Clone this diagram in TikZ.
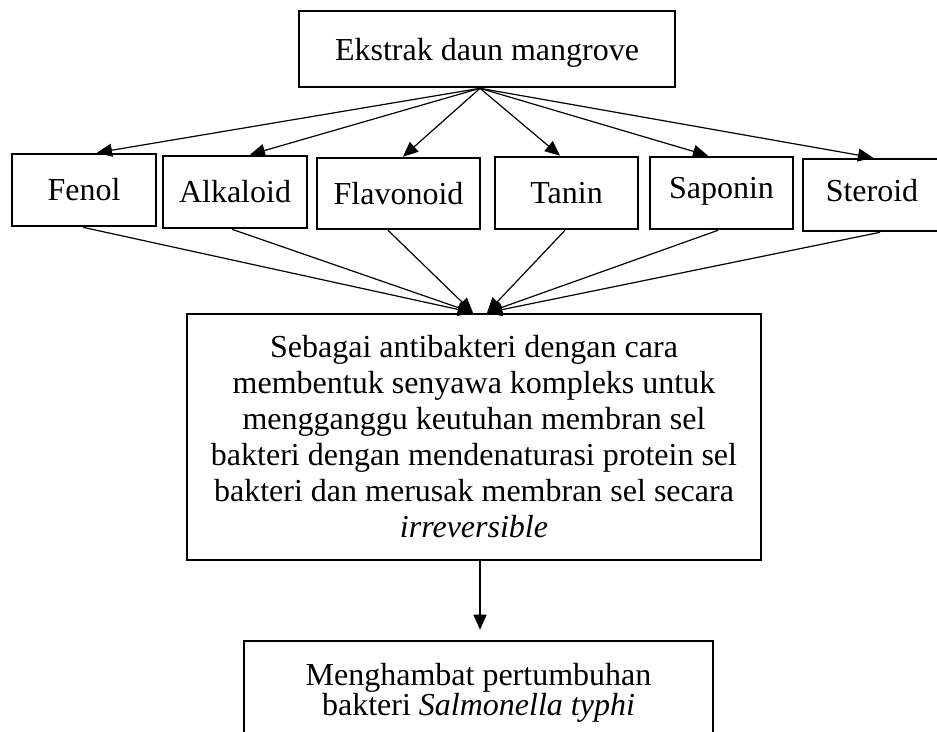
\documentclass[tikz,border=0pt]{standalone}
\usepackage{fontspec}
\setmainfont{Liberation Serif}
\usetikzlibrary{arrows.meta}

\begin{document}
\begin{tikzpicture}[x=1pt, y=-1pt,
  box/.style={draw, line width=2.6pt, inner sep=0pt, minimum height=72pt, font=\fontsize{32}{36}\selectfont},
  link/.style={line width=1.2pt, -{Triangle[length=15pt,width=13pt]}}]
 \useasboundingbox (0,0) rectangle (937,731);
 \clip (0,0) rectangle (937,731);
 \node[box, minimum width=376pt, minimum height=76pt, text height=30pt] (ekstrak) at (487,49) {Ekstrak daun mangrove};
 \node[box, minimum width=144pt] (fenol) at (84,190) {Fenol};
 \node[box, minimum width=144pt] (alkaloid) at (235,192) {Alkaloid};
 \node[box, minimum width=163pt, minimum height=71pt] (flavonoid) at (398.5,193.5) {Flavonoid};
 \node[box, minimum width=143pt] (tanin) at (566.5,193) {Tanin};
 \node[box, minimum width=143pt, text height=22pt, text depth=12pt] (saponin) at (721.5,193) {Saponin};
 \node[box, minimum width=138pt, text height=22pt, text depth=10pt] (steroid) at (872,195) {Steroid};
 \node[box, minimum width=574pt, minimum height=246pt, align=center] (anti) at (474,437)
  {Sebagai antibakteri dengan cara\\ membentuk senyawa kompleks untuk\\ mengganggu keutuhan membran sel\\
   bakteri dengan mendenaturasi protein sel\\ bakteri dan merusak membran sel secara\\ \textit{irreversible}};
 \node[box, minimum width=469pt, minimum height=103pt, align=center, font=\fontsize{32}{28}\selectfont] (hambat) at (478.5,692.5)
  {Menghambat pertumbuhan\\ bakteri \textit{Salmonella typhi}};
 \coordinate (pusat) at ([xshift=-7pt]ekstrak.south);
 \path[link]
  (pusat) edge ([xshift=13pt]fenol.north)
  (pusat) edge ([xshift=15pt]alkaloid.north)
  (pusat) edge ([xshift=4.5pt]flavonoid.north)
  (pusat) edge ([xshift=-6.5pt]tanin.north)
  (pusat) edge ([xshift=-13.5pt]saponin.north)
  (pusat) edge ([xshift=1pt]steroid.north)
  ([xshift=-1pt]fenol.south) edge ([xshift=-1pt]anti.north)
  ([xshift=-3pt]alkaloid.south) edge ([xshift=-1pt]anti.north)
  ([xshift=-10.5pt]flavonoid.south) edge ([xshift=-1pt]anti.north)
  ([xshift=-1.5pt]tanin.south) edge ([xshift=13pt]anti.north)
  ([xshift=-3.5pt]saponin.south) edge ([xshift=13pt]anti.north)
  ([xshift=8pt]steroid.south) edge ([xshift=13pt]anti.north)
  ([xshift=6pt]anti.south) edge ([xshift=1.5pt,yshift=10pt]hambat.north)
 ;
\end{tikzpicture}
\end{document}
